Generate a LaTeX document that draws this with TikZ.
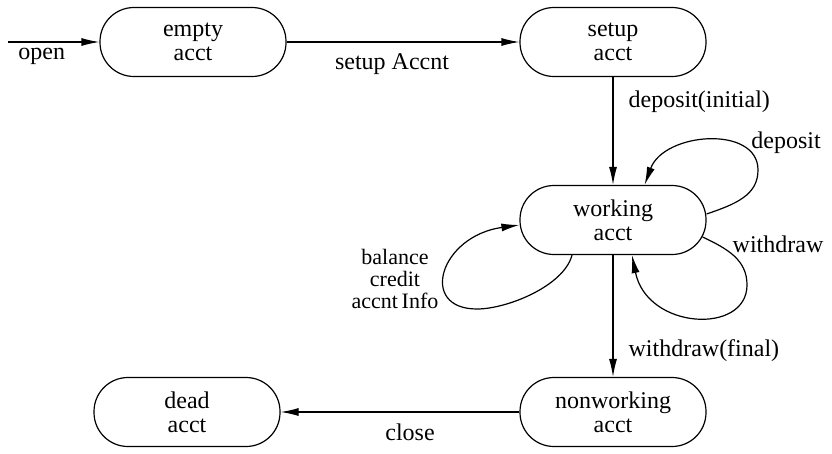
\documentclass[tikz,border=0pt]{standalone}
\usepackage{fontspec}
\setmainfont{Liberation Serif}
\usetikzlibrary{arrows.meta,calc}
\begin{document}
\begin{tikzpicture}[x=1pt,y=-1pt,
  state/.style={draw,line width=1.2pt,rounded corners=34pt,minimum width=186pt,minimum height=69pt,
    align=center,font=\fontsize{24}{24}\selectfont,inner sep=0pt},
  lbl/.style={font=\fontsize{24}{24}\selectfont,align=center,inner sep=0pt},
  tr/.style={line width=1.2pt,-{Latex[length=18pt,width=8pt]}}]
\useasboundingbox (0,0) rectangle (832,453);
\node[state] (empty) at (193,42) {empty\\acct};
\node[state] (setup) at (613,42) {setup\\acct};
\node[state] (work) at (613,220) {working\\acct};
\node[state] (nonw) at (613,412) {nonworking\\acct};
\node[state] (dead) at (187,412) {dead\\acct};
\coordinate (start) at (8,42);
\draw[tr] (start) -- (empty.west) node[lbl,pos=0.37,below=6pt] {open};
\draw[tr] (empty.east) -- (setup.west) node[lbl,pos=0.453,below=11pt] {setup Accnt};
\draw[tr] (setup.south) -- (work.north) node[lbl,pos=0.23,right=15pt] {deposit(initial)};
\draw[tr] (work.south) -- (nonw.north) node[lbl,pos=0.78,right=15pt] {withdraw(final)};
\draw[tr] (nonw.west) -- (dead.east) node[lbl,pos=0.458,below=11pt] {close};
% deposit loop
\coordinate (d0) at ($(work.east)+(0,-6)$);
\coordinate (dR) at (758,170);
\draw[tr] (d0) .. controls (736,204) and (758,195) .. (dR)
  .. controls (758,125) and (664,132) .. (work.48);
\node[lbl] (ldep) at (786,143) {deposit};
% withdraw loop
\coordinate (w0) at ($(work.east)+(-4,17)$);
\coordinate (wR) at (747,285);
\draw[tr] (w0) .. controls (728,249) and (747,260) .. (wR)
  .. controls (747,335) and (647,330) .. ($(work.south)+(19,0)$);
\node[lbl] (lwd) at (778,244) {withdraw};
% left loop
\coordinate (lB) at (477,309);
\draw[tr] ($(work.south)+(-41,0)$) .. controls (564,286) and (507,309) .. (lB)
  .. controls (418,309) and (440,236) .. ($(work.west)+(0,5)$);
\node[lbl,font=\fontsize{22}{22}\selectfont] (lbal) at (395,279) {balance\\credit\\accnt\,Info};
\end{tikzpicture}
\end{document}
